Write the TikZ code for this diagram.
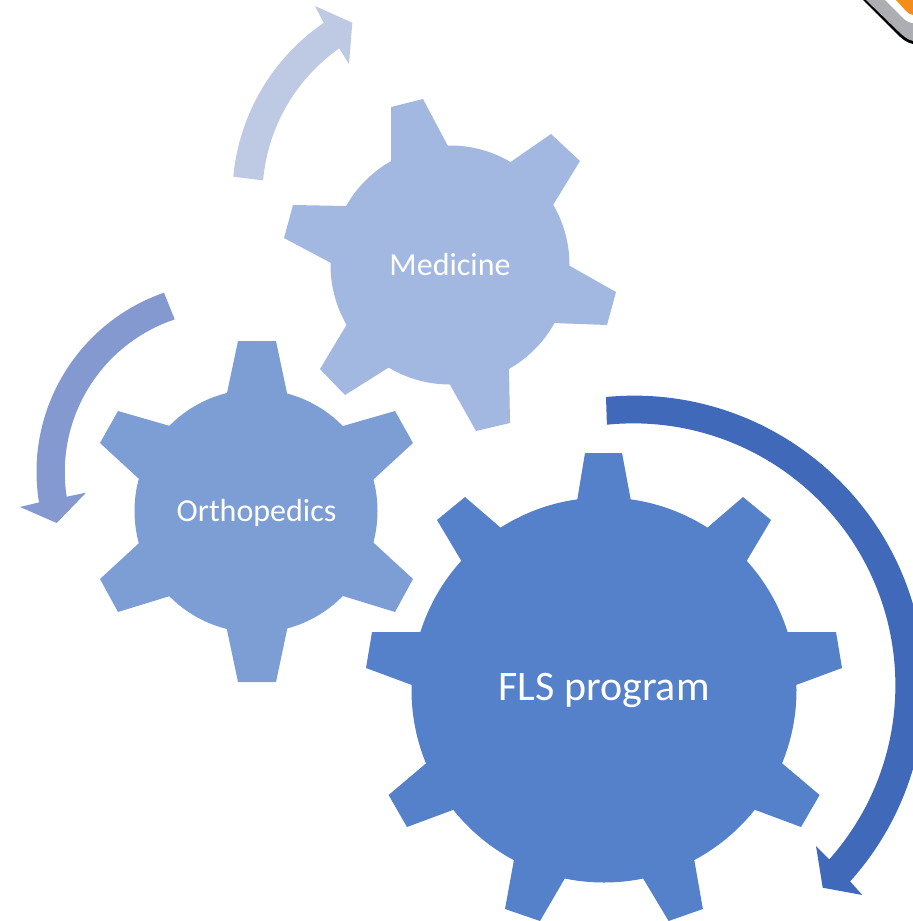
\documentclass[tikz,border=0pt]{standalone}
\usepackage{fontspec}
\usetikzlibrary{calc}
\setmainfont{Carlito}
\definecolor{bigc}{HTML}{5580CA}
\definecolor{midc}{HTML}{7D9DD5}
\definecolor{lightc}{HTML}{A2B8E0}
\definecolor{arrowbig}{HTML}{4069BA}
\definecolor{arrowmid}{HTML}{8499CF}
\definecolor{arrowlight}{HTML}{BEC9E4}
\definecolor{cornergray}{HTML}{ACAEB2}
\definecolor{cornerorange}{HTML}{F28C1E}
\tikzset{
  gearlabel/.style={text=white,inner sep=0pt,anchor=base},
}
\newcommand{\gearteeth}[2]{%
  \foreach \a/\b/\c/\d/\e/\f/\g/\h in {#2}
    \fill[#1] ($(\c,\d)!1.4!(\a,\b)$)--(\c,\d)--(\e,\f)--($(\e,\f)!1.4!(\g,\h)$)--cycle;}
\begin{document}
\begin{tikzpicture}[x=0.75pt,y=-0.75pt]
\useasboundingbox (0,0) rectangle (913,921);
\clip (0,0) rectangle (913,921);
% corner fragment
\fill[black] (863,0) -- (896,33) .. controls (902,39) and (907,43) .. (913,44) -- (913,0) -- cycle;
\fill[cornergray] (866,0) -- (898,31) .. controls (903,36) and (908,40) .. (913,41) -- (913,0) -- cycle;
\fill[white] (885,0) -- (903,18) .. controls (906,21) and (910,23) .. (913,23) -- (913,0) -- cycle;
\fill[cornerorange] (896,0) -- (906,11) .. controls (908,13) and (911,15) .. (913,15) -- (913,0) -- cycle;
% Medicine gear
\fill[lightc] (450,265) circle[radius=119.5];
\gearteeth{lightc}{391/160/391/107/423/99/449/148, 512/161/551/134/580/161/553/205, 570/266/616/292/607/325/553/323, 509/368/510/423/476/431/449/383, 388/368/345/395/320/369/347/324, 346/206/293/205/284/238/331/263}
\node[gearlabel,font=\fontsize{24}{28}\selectfont] (medicine) at (450,275) {Medicine};
% Orthopedics gear
\fill[midc] (256,511) circle[radius=121.5];
\gearteeth{midc}{227/393/238/341/276/341/287/393, 343/426/395/411/413/443/375/478, 375/544/413/579/395/612/343/596, 287/630/276/682/238/682/227/630, 170/596/118/612/100/579/138/544, 138/478/100/443/118/411/170/426}
\node[gearlabel,font=\fontsize{24}{28}\selectfont] (ortho) at (256.5,521) {Orthopedics};
% FLS gear
\fill[bigc] (604,690) circle[radius=192.5];
\gearteeth{bigc}{577/501/585/453/622/453/631/501, 707/528/743/497/771/520/746/562, 786.5/632/836/632/842/668/796/685, 782.6/763.7/819.6/795/801/827/755.4/810, 694.4/860.7/702.9/909/668.6/921/644/880, 563.9/880/540/921/505/909/513.8/860.7, 452.8/810/407/827/388.6/795/425.6/763.7, 411.9/685/366/668/372/632/421.7/632, 462/562/437/520/465/497/501/528}
\node[gearlabel,font=\fontsize{31.5}{38}\selectfont] (fls) at (604,700) {FLS program};
% circular arrows
\fill[arrowbig] (606,397) arc[start angle=-95.5,end angle=42,radius=291]
  -- (862.3,895) -- (822.7,887.7) -- (816,846) -- (829.3,859.3)
  arc[start angle=41.6,end angle=-95.8,radius=262] -- cycle;
\fill[arrowmid] (164,292.7) arc[start angle=250.9,end angle=170.7,radius=189.5]
  -- (20,507) -- (56.7,523) -- (86,492.7) -- (66.7,496.7)
  arc[start angle=171.2,end angle=251.5,radius=161] -- cycle;
\fill[arrowlight] (233.3,176.7) arc[start angle=185.3,end angle=235.6,radius=210]
  -- (315,6) -- (352.3,22.7) -- (349,64.3) -- (339.3,48.3)
  arc[start angle=234.9,end angle=185.06,radius=181] -- cycle;
\end{tikzpicture}
\end{document}
